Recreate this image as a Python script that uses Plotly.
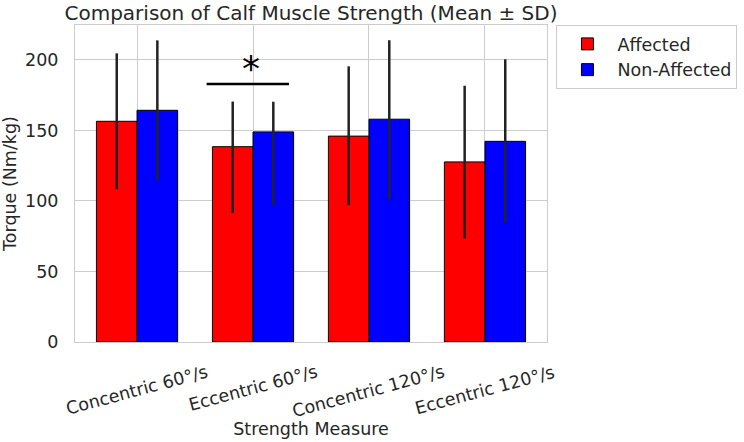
import plotly.graph_objects as go

categories = ["Concentric 60°/s", "Eccentric 60°/s", "Concentric 120°/s", "Eccentric 120°/s"]
affected_mean = [156.5, 138.5, 146.0, 127.7]
affected_err_plus = [48.2, 32.0, 49.5, 54.0]
affected_err_minus = [48.2, 47.0, 49.0, 54.2]
nonaffected_mean = [164.3, 149.0, 158.0, 142.3]
nonaffected_err_plus = [49.6, 21.4, 56.0, 58.2]
nonaffected_err_minus = [49.9, 51.8, 56.6, 57.7]
y_ticks = [0, 50, 100, 150, 200]
sig_x = [0.6, 1.31]
sig_y = 183
sig_star_x = 0.98

FONT = "DejaVu Sans"
TXT = "#262626"
GRID = "#cccccc"

fig = go.Figure()
fig.add_trace(go.Bar(
    name="Affected", x=categories, y=affected_mean,
    marker=dict(color="#ff0000", line=dict(color="#000000", width=1)),
    error_y=dict(type="data", array=affected_err_plus, arrayminus=affected_err_minus,
                 symmetric=False, thickness=2.5, width=0, color="#222222"),
))
fig.add_trace(go.Bar(
    name="Non-Affected", x=categories, y=nonaffected_mean,
    marker=dict(color="#0000ff", line=dict(color="#000000", width=1)),
    error_y=dict(type="data", array=nonaffected_err_plus, arrayminus=nonaffected_err_minus,
                 symmetric=False, thickness=2.5, width=0, color="#222222"),
))

# significance marker
fig.add_shape(type="line", xref="x", yref="y", x0=sig_x[0], x1=sig_x[1], y0=sig_y, y1=sig_y,
              line=dict(color="#000000", width=2.5))
fig.add_annotation(x=sig_star_x, y=sig_y, xref="x", yref="y", text="*", showarrow=False,
                   yanchor="bottom", yshift=-7, font=dict(family=FONT, size=36, color="#000000"))

# rotated category labels
for c in categories:
    fig.add_annotation(x=c, y=0, xref="x", yref="paper", text=c, showarrow=False,
                       textangle=-15, xanchor="center", yanchor="top", yshift=-17,
                       font=dict(family=FONT, size=17.5, color=TXT))

fig.update_layout(
    width=744, height=442,
    margin=dict(l=75, r=197, t=25, b=100, autoexpand=False),
    paper_bgcolor="white", plot_bgcolor="white",
    font=dict(family=FONT, color=TXT, size=17.5),
    barmode="group", bargap=0.3, bargroupgap=0,
    title=dict(text="Comparison of Calf Muscle Strength (Mean ± SD)", x=0.418, xanchor="center",
               y=0.97, yanchor="middle", font=dict(size=20, color=TXT)),
    legend=dict(x=1.02, y=1.0, xanchor="left", yanchor="top", bordercolor=GRID, borderwidth=1,
                bgcolor="white", font=dict(size=17.5, color=TXT), tracegroupgap=0,
                itemwidth=50),
    xaxis=dict(range=[-0.535, 3.535], showticklabels=False, showgrid=True, gridcolor=GRID,
               showline=True, linecolor=GRID, mirror=True, ticks="",
               title=dict(text="Strength Measure", standoff=80, font=dict(size=17.5)), automargin=False),
    yaxis=dict(range=[0, 224.8], tickvals=y_ticks, showgrid=True, gridcolor=GRID, zeroline=False,
               showline=True, linecolor=GRID, mirror=True, ticks="", ticklabelstandoff=12,
               tickfont=dict(size=17.5),
               title=dict(text="Torque (Nm/kg)", standoff=6, font=dict(size=17.5)), automargin=False),
)

fig.write_html("out.html")
